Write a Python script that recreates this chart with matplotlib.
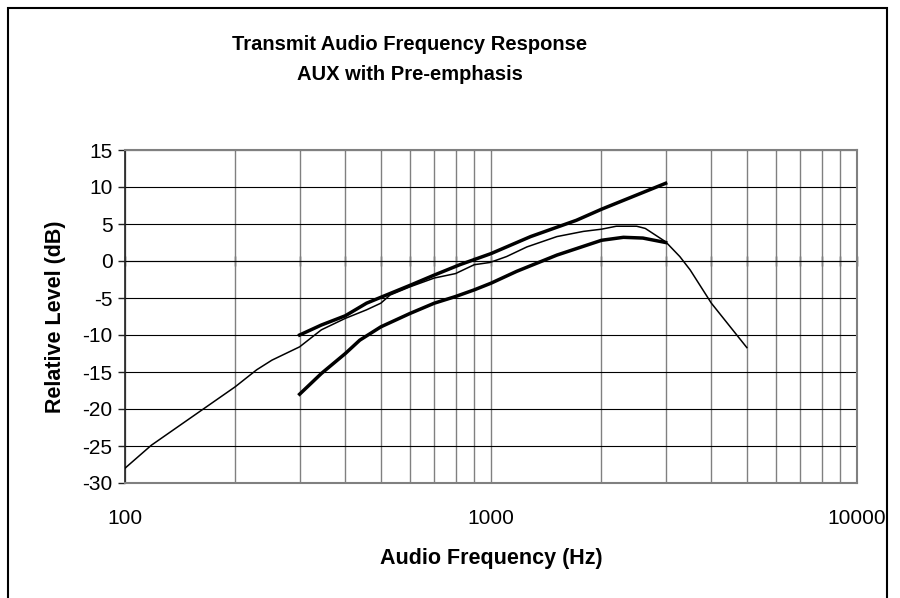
import matplotlib.pyplot as plt
from matplotlib.patches import Rectangle
from matplotlib.ticker import LogLocator, NullFormatter, FixedLocator
import numpy as np

plt.rcParams['font.family'] = ['Liberation Sans', 'DejaVu Sans']
plt.rcParams['axes.unicode_minus'] = False

# measured response (thin line)
freq_meas = [100, 118, 167, 200, 229, 252, 300, 344, 400, 457, 500, 530, 600,
             700, 800, 900, 993, 1103, 1253, 1514, 1788, 2005, 2200, 2500,
             2640, 3000, 3280, 3500, 4000, 5000]
db_meas = [-28.0, -24.9, -19.7, -17.0, -14.7, -13.4, -11.6, -9.3, -7.75, -6.6,
           -5.7, -4.6, -3.5, -2.3, -1.7, -0.5, -0.2, 0.6, 1.9, 3.3, 4.0, 4.3,
           4.7, 4.7, 4.4, 2.6, 0.6, -1.2, -5.7, -11.7]

# upper limit (thick)
freq_upper = [300, 344, 400, 457, 506, 600, 700, 822, 1000, 1283, 1711, 2005, 3000]
db_upper = [-10.0, -8.65, -7.4, -5.7, -4.8, -3.3, -1.9, -0.5, 1.0, 3.3, 5.5, 7.0, 10.5]

# lower limit (thick)
freq_lower = [300, 344, 400, 438, 500, 600, 700, 800, 900, 1000, 1175, 1514,
              2005, 2300, 2600, 3000]
db_lower = [-18.0, -15.2, -12.5, -10.7, -8.9, -7.1, -5.7, -4.8, -3.9, -3.0,
            -1.4, 0.8, 2.8, 3.2, 3.1, 2.5]

yticks = [-30, -25, -20, -15, -10, -5, 0, 5, 10, 15]

fig = plt.figure(figsize=(9, 5.98), dpi=100)
ax = fig.add_axes([125/900, 1-483/598, 732/900, 333/598])

ax.plot(freq_meas, db_meas, color='black', lw=1.1, zorder=3)
ax.plot(freq_upper, db_upper, color='black', lw=2.5, zorder=4)
ax.plot(freq_lower, db_lower, color='black', lw=2.5, zorder=4)

ax.set_xscale('log')
ax.set_xlim(100, 10000)
ax.set_ylim(-30, 15)
ax.set_yticks(yticks)
ax.xaxis.set_major_locator(FixedLocator([100, 1000, 10000]))
ax.xaxis.set_minor_locator(LogLocator(base=10, subs=np.arange(2, 10)))
ax.xaxis.set_minor_formatter(NullFormatter())
ax.set_xticklabels(['100', '1000', '10000'])

ax.grid(True, axis='y', color='black', lw=0.8)
ax.grid(True, axis='x', which='both', color='#808080', lw=1.0)
ax.set_axisbelow(True)

for s in ['top', 'right', 'bottom']:
    ax.spines[s].set_color('#808080')
    ax.spines[s].set_linewidth(1.5)
ax.spines['left'].set_color('#202020')
ax.spines['left'].set_linewidth(1.2)

ax.tick_params(axis='y', direction='out', length=5, width=1, color='#202020',
               labelsize=15, pad=4)
ax.tick_params(axis='x', which='both', length=0, labelsize=15, pad=19)

# axis line at 0 dB with ticks (Excel style)
sec = ax.secondary_xaxis(30/45)
sec.set_xticks([100, 1000, 10000])
sec.xaxis.set_minor_locator(LogLocator(base=10, subs=np.arange(2, 10)))
sec.xaxis.set_minor_formatter(NullFormatter())
sec.set_xticklabels([])
sec.tick_params(axis='x', which='both', direction='inout', length=7, width=1,
                color='#202020')
sec.spines['bottom'].set_color('#202020')
sec.spines['bottom'].set_linewidth(1.0)

ax.set_xlabel('Audio Frequency (Hz)', fontsize=15.5, fontweight='bold', labelpad=14)
ax.set_ylabel('Relative Level (dB)', fontsize=15.5, fontweight='bold', labelpad=12)

fig.text(410/900, 1-45/598, 'Transmit Audio Frequency Response', ha='center',
         va='center', fontsize=14.5, fontweight='bold')
fig.text(410/900, 1-75/598, 'AUX with Pre-emphasis', ha='center',
         va='center', fontsize=14.5, fontweight='bold')

fig.patches.append(Rectangle((8/900, -0.05), 879/900, 1.05 - 8/598,
                             transform=fig.transFigure, fill=False,
                             edgecolor='black', lw=1.5))

fig.savefig('out.png', dpi=100)
